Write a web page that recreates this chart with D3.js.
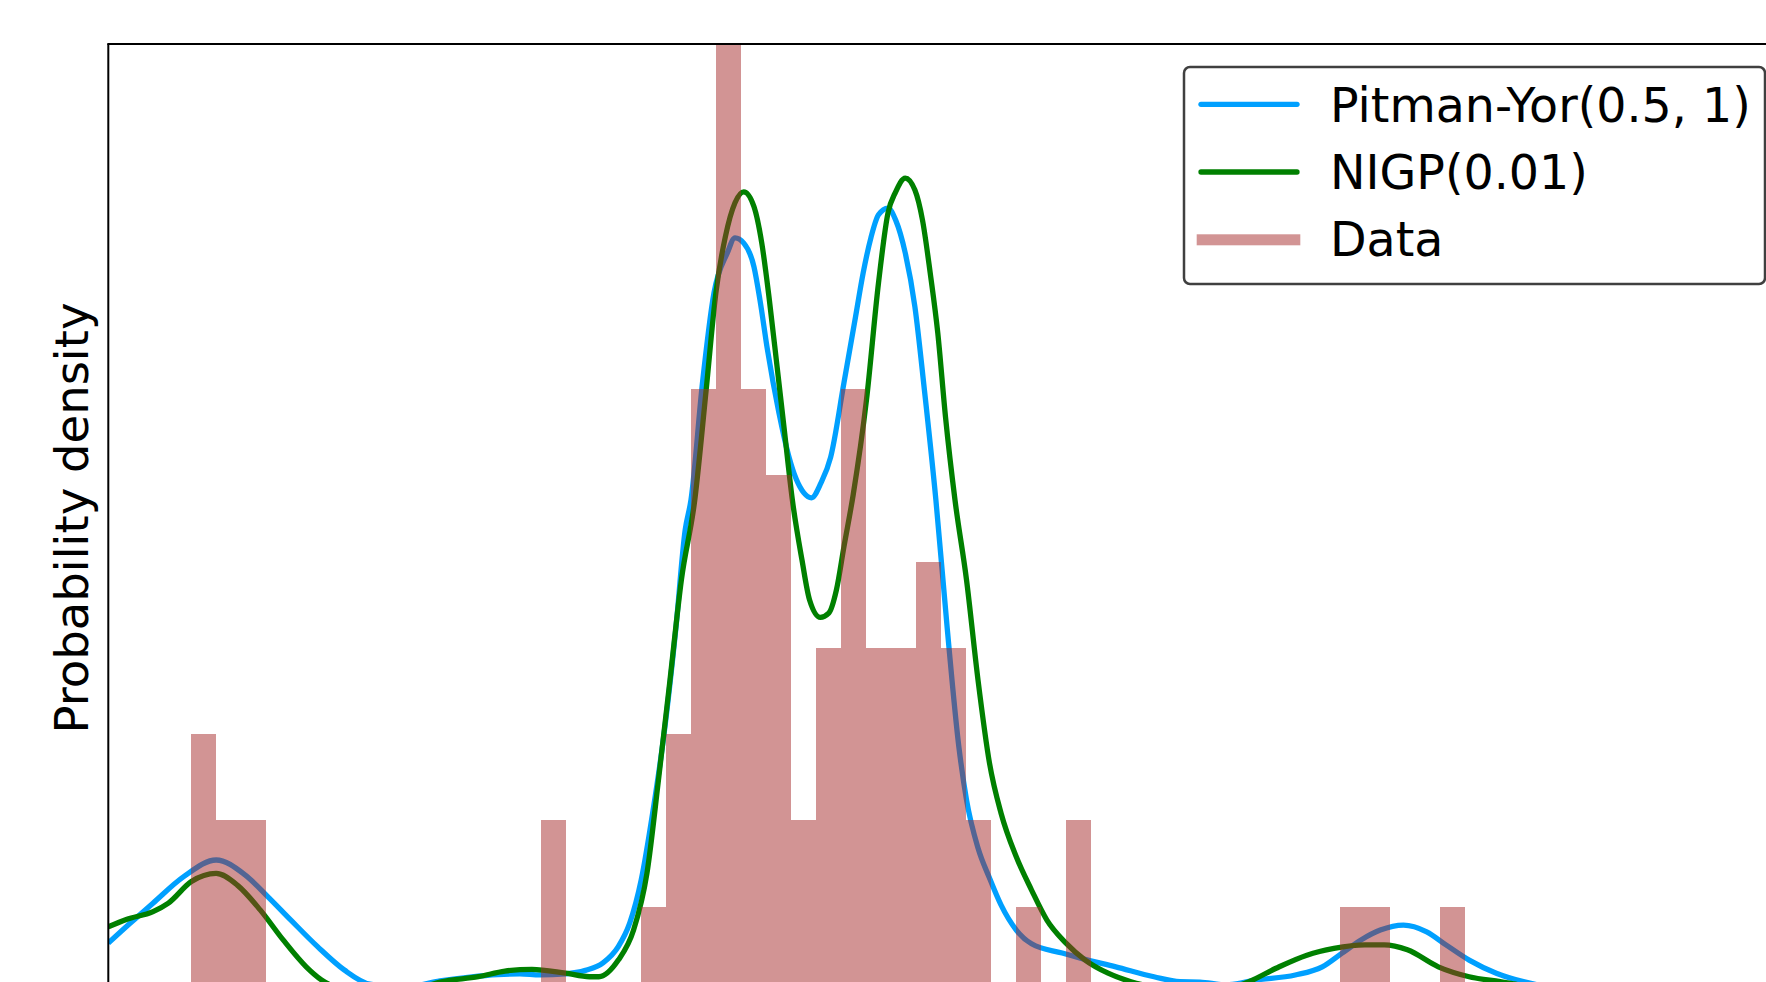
<!DOCTYPE html>
<html>
<head>
<meta charset="utf-8">
<script src="https://cdn.jsdelivr.net/npm/d3@7"></script>
<style>
  html, body { margin: 0; padding: 0; background: #fff; }
  svg { display: block; font-family: "DejaVu Sans", sans-serif; }
</style>
</head>
<body>
<script>
// ---- Data (galaxy velocities histogram + two density estimates) ----
const binStart = [9.0, 9.5, 10.0, 16.0, 18.0, 18.5, 19.0, 19.5, 20.0, 20.5, 21.0, 21.5, 22.0, 22.5, 23.0, 23.5, 24.0, 24.5, 25.5, 26.5, 32.0, 32.5, 34.0];
const binCount = [3, 2, 2, 2, 1, 3, 7, 11, 7, 6, 2, 4, 7, 4, 4, 5, 4, 2, 1, 2, 1, 1, 1];
const binWidth = 0.5;

const pyX = [7.337, 7.773, 8.231, 8.846, 9.496, 10.073, 10.533, 10.992, 11.526, 12.062, 12.575, 13.276, 13.976, 14.576, 15.127, 15.577, 15.977, 16.490, 16.888, 17.239, 17.545, 17.775, 18.003, 18.233, 18.463, 18.694, 18.884, 19.000, 19.230, 19.460, 19.727, 19.881, 20.057, 20.261, 20.381, 20.531, 20.761, 20.953, 21.106, 21.260, 21.412, 21.602, 21.796, 22.062, 22.293, 22.447, 22.601, 22.753, 22.943, 23.097, 23.289, 23.482, 23.672, 23.902, 24.132, 24.362, 24.515, 24.745, 24.975, 25.205, 25.511, 25.817, 26.430, 26.812, 27.503, 28.267, 28.788, 29.188, 29.689, 30.321, 31.096, 31.636, 32.024, 32.411, 32.797, 33.261, 33.726, 34.112, 34.576, 35.119, 35.661, 36.393, 37.594, 39.195, 41.0];
const pyY = [0.0141, 0.0197, 0.0254, 0.0329, 0.0376, 0.0334, 0.0272, 0.0206, 0.0131, 0.0065, 0.0025, 0.0017, 0.0034, 0.0045, 0.0052, 0.0054, 0.0051, 0.0054, 0.0064, 0.0085, 0.0131, 0.0198, 0.0319, 0.0509, 0.0735, 0.1026, 0.1309, 0.1394, 0.1725, 0.1979, 0.2092, 0.2135, 0.2120, 0.2053, 0.1959, 0.1818, 0.1640, 0.1520, 0.1453, 0.1414, 0.1400, 0.1442, 0.1515, 0.1725, 0.1911, 0.2036, 0.2135, 0.2200, 0.2219, 0.2185, 0.2092, 0.1940, 0.1705, 0.1394, 0.1026, 0.0696, 0.0546, 0.0410, 0.0325, 0.0249, 0.0178, 0.0139, 0.0113, 0.0098, 0.0074, 0.0046, 0.0032, 0.0031, 0.0023, 0.0037, 0.0051, 0.0074, 0.0112, 0.0150, 0.0178, 0.0192, 0.0173, 0.0136, 0.0093, 0.0056, 0.0032, 0.0014, 0.0006, 0.0001, 0.0];

const nigpX = [7.337, 7.697, 8.233, 8.540, 9.000, 9.496, 9.919, 10.377, 10.837, 11.298, 11.604, 12.175, 12.975, 13.576, 13.976, 14.745, 15.277, 15.817, 16.490, 16.966, 17.158, 17.545, 17.851, 18.119, 18.349, 18.580, 18.808, 19.076, 19.306, 19.498, 19.688, 19.881, 20.057, 20.261, 20.417, 20.569, 20.723, 20.875, 21.029, 21.222, 21.374, 21.588, 21.758, 21.910, 22.062, 22.246, 22.513, 22.753, 22.943, 23.097, 23.289, 23.482, 23.634, 23.788, 23.940, 24.094, 24.284, 24.515, 24.745, 24.975, 25.205, 25.511, 25.817, 26.124, 26.506, 26.890, 27.349, 27.807, 28.388, 28.988, 29.589, 30.167, 30.710, 31.328, 31.870, 32.489, 32.875, 33.340, 33.958, 34.576, 35.197, 35.993, 37.194, 39.195, 41.0];
const nigpY = [0.0187, 0.0208, 0.0230, 0.0254, 0.0315, 0.0338, 0.0305, 0.0235, 0.0150, 0.0074, 0.0037, 0.0008, 0.0003, 0.0014, 0.0031, 0.0046, 0.0062, 0.0067, 0.0056, 0.0046, 0.0046, 0.0093, 0.0178, 0.0339, 0.0602, 0.0885, 0.1168, 0.1394, 0.1708, 0.1979, 0.2138, 0.2234, 0.2265, 0.2223, 0.2120, 0.1959, 0.1771, 0.1583, 0.1394, 0.1224, 0.1111, 0.1062, 0.1074, 0.1139, 0.1262, 0.1408, 0.1677, 0.2007, 0.2205, 0.2265, 0.2304, 0.2270, 0.2185, 0.2036, 0.1866, 0.1629, 0.1394, 0.1168, 0.0885, 0.0650, 0.0509, 0.0385, 0.0291, 0.0206, 0.0141, 0.0093, 0.0056, 0.0032, 0.0014, 0.0006, 0.0008, 0.0032, 0.0070, 0.0107, 0.0126, 0.0136, 0.0136, 0.0122, 0.0074, 0.0046, 0.0032, 0.0014, 0.0004, 0.0001, 0.0];

const seriesNames = ["Pitman-Yor(0.5, 1)", "NIGP(0.01)", "Data"];
const yLabel = "Probability density";
const xDomain = [7.337, 41.198];
const yDomain = [0, 0.26829];

// ---- Layout ----
const W = 1766, H = 982;
const plot = { left: 108.3, top: 44, right: 1800, bottom: 993 };
const colors = { py: "#00a0ff", nigp: "#008000", bar: "#a52a2a" };
const lw = 5.3;
const fontSize = 47.5;

const svg = d3.select("body").append("svg").attr("width", W).attr("height", H);

const x = d3.scaleLinear().domain(xDomain).range([plot.left, plot.right]);
const y = d3.scaleLinear().domain(yDomain).range([plot.bottom, plot.top]);

svg.append("defs").append("clipPath").attr("id", "clip")
  .append("rect").attr("x", plot.left).attr("y", plot.top)
  .attr("width", plot.right - plot.left).attr("height", plot.bottom - plot.top);

const g = svg.append("g").attr("clip-path", "url(#clip)");

const line = d3.line().x(d => x(d[0])).y(d => y(d[1])).curve(d3.curveMonotoneX);

const nTotal = d3.sum(binCount);
const pyData = pyX.map((v, i) => [v, pyY[i]]);
const nigpData = nigpX.map((v, i) => [v, nigpY[i]]);

g.append("path").datum(pyData).attr("d", line)
  .attr("fill", "none").attr("stroke", colors.py).attr("stroke-width", lw)
  .attr("stroke-linejoin", "round");
g.append("path").datum(nigpData).attr("d", line)
  .attr("fill", "none").attr("stroke", colors.nigp).attr("stroke-width", lw)
  .attr("stroke-linejoin", "round");

// histogram (density) on top
g.append("g").selectAll("rect").data(binStart.map((s, i) => ({ s, c: binCount[i] })))
  .join("rect")
  .attr("x", d => x(d.s))
  .attr("width", d => x(d.s + binWidth) - x(d.s))
  .attr("y", d => y(d.c / (nTotal * binWidth)))
  .attr("height", d => y(0) - y(d.c / (nTotal * binWidth)))
  .attr("fill", colors.bar).attr("fill-opacity", 0.5)
  .attr("shape-rendering", "crispEdges");

// spines (left + top visible)
svg.append("line").attr("x1", plot.left).attr("x2", plot.left)
  .attr("y1", plot.top).attr("y2", plot.bottom)
  .attr("stroke", "#000").attr("stroke-width", 2);
svg.append("line").attr("x1", plot.left - 1).attr("x2", plot.right)
  .attr("y1", plot.top).attr("y2", plot.top)
  .attr("stroke", "#000").attr("stroke-width", 2);

// y label
svg.append("text")
  .attr("transform", `translate(88,518) rotate(-90)`)
  .attr("text-anchor", "middle")
  .attr("font-size", 46.5)
  .attr("fill", "#000")
  .text(yLabel);

// legend
const leg = svg.append("g");
leg.append("rect").attr("x", 1184).attr("y", 67).attr("width", 581).attr("height", 217)
  .attr("rx", 6).attr("ry", 6)
  .attr("fill", "#fff").attr("stroke", "#404040").attr("stroke-width", 2.5);

const rows = [
  { name: seriesNames[0], type: "line", color: colors.py, yc: 104.3, base: 121.7 },
  { name: seriesNames[1], type: "line", color: colors.nigp, yc: 172, base: 189.3 },
  { name: seriesNames[2], type: "patch", color: colors.bar, yc: 239.8, base: 256 }
];
rows.forEach(r => {
  if (r.type === "line") {
    leg.append("line").attr("x1", 1201).attr("x2", 1297).attr("y1", r.yc).attr("y2", r.yc)
      .attr("stroke", r.color).attr("stroke-width", lw).attr("stroke-linecap", "round");
  } else {
    leg.append("rect").attr("x", 1196.7).attr("y", r.yc - 5.5).attr("width", 103.6).attr("height", 11)
      .attr("fill", r.color).attr("fill-opacity", 0.5);
  }
  leg.append("text").attr("x", 1330).attr("y", r.base)
    .attr("font-size", fontSize).attr("fill", "#000").text(r.name);
});
</script>
</body>
</html>
